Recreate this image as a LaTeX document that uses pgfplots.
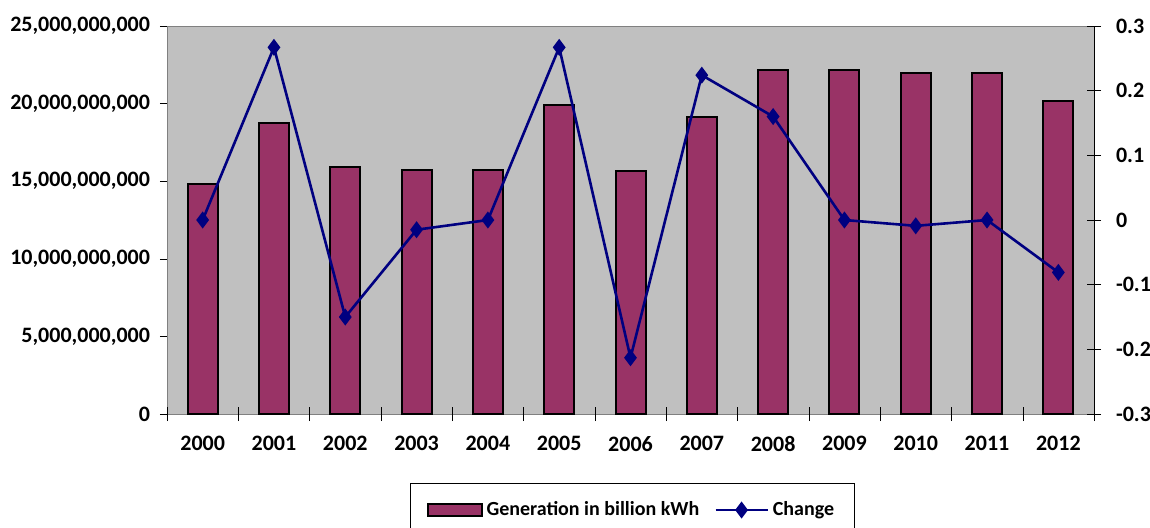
\documentclass[border=0pt]{standalone}
\usepackage{fontspec}
\setmainfont{Carlito}
\usepackage{pgfplots}
\pgfplotsset{compat=1.18}
\definecolor{barc}{HTML}{993366}
\definecolor{linec}{HTML}{000080}
\definecolor{bgc}{HTML}{C0C0C0}
\definecolor{boxc}{HTML}{808080}
\pgfplotsset{
  barlegend/.style={legend image code/.code={\draw[##1] (0pt,-3pt) rectangle (27pt,3pt);}},
  linelegend/.style={legend image code/.code={\draw[mark repeat=2,mark phase=2,##1] plot coordinates {(0pt,0pt) (13pt,0pt) (26pt,0pt)};}},
}
\begin{document}
\begin{tikzpicture}
\path[use as bounding box] (-83.5pt,-56.5pt) rectangle (491.5pt,207pt);
\pgfplotsset{
  every axis/.append style={
    scale only axis, width=463.5pt, height=194pt,
    xmin=-0.5, xmax=12.5,
    font=\fontsize{11}{13}\selectfont\bfseries,
    /pgf/number format/assume math mode=true,
  },
}
\begin{axis}[
  at={(0,0)}, anchor=south west,
  axis background/.style={fill=bgc},
  axis line style={boxc},
  ymin=0, ymax=25000000000,
  ytick={0,5000000000,10000000000,15000000000,20000000000,25000000000},
  scaled y ticks=false,
  yticklabel style={/pgf/number format/fixed, /pgf/number format/1000 sep={,}, xshift=-1.5pt},
  ytick pos=left,
  xtick pos=bottom,
  tick align=outside,
  major tick length=3.5pt,
  y tick style={black},
  xtick={0,...,12},
  xticklabels={2000,2001,2002,2003,2004,2005,2006,2007,2008,2009,2010,2011,2012},
  x tick style={draw=none},
  xticklabel style={yshift=-4pt},
  ybar, bar width=15pt,
]
\addplot[fill=barc, draw=black, line width=1pt] coordinates {
(0,14790000000) (1,18730000000) (2,15890000000) (3,15700000000) (4,15700000000)
(5,19900000000) (6,15630000000) (7,19120000000) (8,22160000000) (9,22160000000)
(10,21960000000) (11,21960000000) (12,20160000000)};
\end{axis}
\begin{axis}[
  at={(0,0)}, anchor=south west,
  axis y line*=right,
  axis x line*=bottom,
  x axis line style={draw=none},
  y axis line style={black},
  ymin=-0.3, ymax=0.3,
  ytick={-0.3,-0.2,-0.1,0,0.1,0.2,0.3},
  yticklabel style={/pgf/number format/fixed, /pgf/number format/precision=1, xshift=4pt},
  xtick={-0.5,0.5,...,12.5},
  xticklabels={},
  tick align=center,
  major tick length=7pt,
  tick style={black},
  legend style={at={(0.502,-0.178)}, anchor=north, legend columns=2,
    draw=black, fill=white, inner xsep=8pt, inner ysep=7pt,
    font=\fontsize{10}{12}\selectfont\bfseries,
    /tikz/every even column/.append style={column sep=5.5pt}},
]
\addlegendimage{fill=barc, draw=black, line width=1pt, barlegend}
\addlegendentry{Generation in billion kWh}
\addplot[color=linec, line width=1.3pt, mark=diamond*, mark size=3.2pt, linelegend]
coordinates {
(0,0) (1,0.267) (2,-0.15) (3,-0.015) (4,0) (5,0.267) (6,-0.213)
(7,0.224) (8,0.16) (9,0) (10,-0.009) (11,0) (12,-0.081)};
\addlegendentry{Change}
\end{axis}
\end{tikzpicture}
\end{document}
